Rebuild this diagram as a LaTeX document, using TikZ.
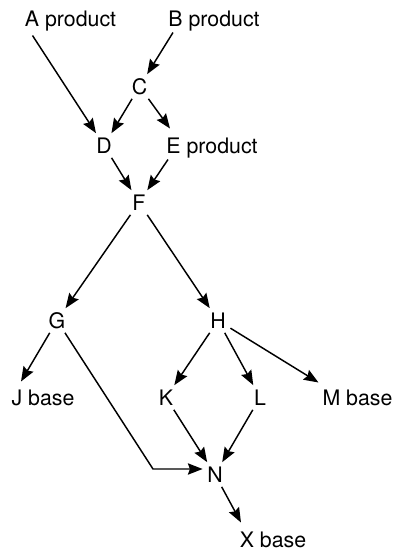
\documentclass[tikz,border=0pt]{standalone}
\usepackage{fontspec}
\setmainfont{TeX Gyre Heros}
\usetikzlibrary{arrows.meta,calc}

\tikzset{every picture/.style={line width=1.1pt}}
\tikzset{
  item/.style={inner sep=3pt,text height=11.4pt,text depth=0pt,font=\fontsize{16}{18}\selectfont},
  flow/.style={-{Stealth[length=11pt,width=8.5pt,inset=1.5pt]}}
}

\begin{document}
\begin{tikzpicture}[x=0.75pt,y=0.75pt,yscale=-1,xscale=1]
    \useasboundingbox (0,0) rectangle (396,550); %set diagram to the page size

    % Text Node
    \node [item] (A) at (70.5,18.5) {A product};
    % Text Node
    \node [item] (B) at (214,18.5) {B product};
    % Text Node
    \node [item] (C) at (139.5,86.5) {C};
    % Text Node
    \node [item] (D) at (104,145.5) {D};
    % Text Node
    \node [item] (E) at (212,145.5) {E product};
    % Text Node
    \node [item] (F) at (139,202.5) {F};
    % Text Node
    \node [item] (G) at (57,320.5) {G};
    % Text Node
    \node [item] (H) at (218,320.5) {H};
    % Text Node
    \node [item] (J) at (43,397.5) {J base};
    % Text Node
    \node [item] (K) at (166,397.5) {K};
    % Text Node
    \node [item] (L) at (260,397.5) {L};
    % Text Node
    \node [item] (M) at (357.5,397.5) {M base};
    % Text Node
    \node [item] (N) at (215,474.5) {N};
    % Text Node
    \node [item] (X) at (273,539.5) {X base};
    %Bend of the line from G
    \coordinate (GN) at (153,469);

    %Straight Lines
    \draw [flow] ($(A.center)+(-38,17)$) -- (D);
    \draw [flow] ($(B.center)+(-41,14)$) -- (C);
    \draw [flow] (C) -- (D);
    \draw [flow] (C) -- ($(E.center)+(-42,-17)$);
    \draw [flow] (D) -- (F);
    \draw [flow] ($(E.center)+(-44,14)$) -- (F);
    \draw [flow] (F) -- (G);
    \draw [flow] (F) -- (H);
    \draw [flow] (G) -- ($(J.center)+(-22,-16)$);
    \draw [flow] (G) -- (GN) -- (GN -| N.west);
    \draw [flow] (H) -- (K);
    \draw [flow] (H) -- (L);
    \draw [flow] (H) -- ($(M.center)+(-39,-15)$);
    \draw [flow] (K) -- (N);
    \draw [flow] (L) -- (N);
    \draw [flow] (N) -- ($(X.center)+(-32,-17)$);

\end{tikzpicture}
\end{document}
